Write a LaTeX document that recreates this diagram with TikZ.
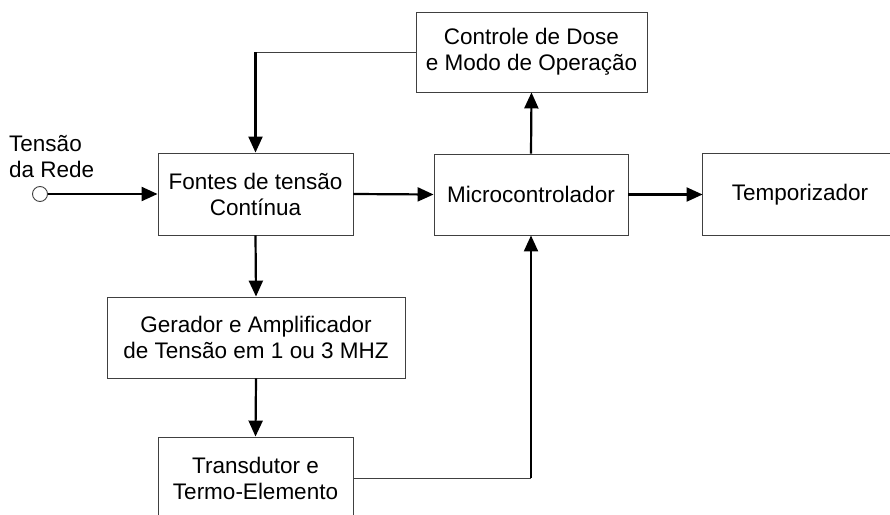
\documentclass[tikz,border=0pt]{standalone}
\usepackage{fontspec}
\setmainfont{Liberation Sans}
\usetikzlibrary{arrows.meta}
\begin{document}
\begin{tikzpicture}[x=1pt,y=-1pt,
  blk/.style={draw=black!75, line width=0.9pt, inner sep=0pt, align=center, font=\fontsize{22.5}{26}\selectfont},
  lbl/.style={inner sep=0pt, align=left, font=\fontsize{22.5}{26}\selectfont},
  arr/.style={line width=2.2pt, -{Triangle[length=16pt,width=14pt]}},
  thinline/.style={draw=black!75, line width=0.9pt}]
\useasboundingbox (0,0) rectangle (890,514);
\node[blk, minimum width=231pt, minimum height=80pt] (ctrl) at (531.5,52) {Controle de Dose\\e Modo de Operação};
\node[blk, minimum width=195pt, minimum height=82pt] (fontes) at (255.5,194) {Fontes de tensão\\Contínua};
\node[blk, minimum width=194pt, minimum height=81pt] (micro) at (531,194.5) {Microcontrolador};
\node[blk, draw=none, minimum width=194pt, minimum height=81pt] (temp) at (800,194.5) {Temporizador};
\draw[thinline] ([xshift=30pt]temp.north east) -- (temp.north west) -- (temp.south west) -- ([xshift=30pt]temp.south east);
\node[blk, minimum width=298pt, minimum height=81pt] (ger) at (256,337.5) {Gerador e Amplificador\\de Tensão em 1 ou 3 MHZ};
\node[blk, minimum width=195pt, minimum height=82pt] (trans) at (255.5,478) {Transdutor e\\Termo-Elemento};
\node[circle, draw=black!75, line width=0.9pt, minimum size=15pt, inner sep=0pt] (in) at (40,194) {};
\node[lbl, anchor=north west] (rede) at (9,135.5) {Tensão\\da Rede};
\draw[arr] (in.east) -- (in.east -| fontes.west);
\draw[arr] (fontes.east) -- (micro.west);
\draw[arr] (micro.east) -- (temp.west);
\draw[arr] (micro.north) -- (ctrl.south);
\coordinate (c1) at (fontes.north |- ctrl.west);
\draw[thinline] (ctrl.west) -- (c1);
\draw[arr] (c1) -- (fontes.north);
\draw[arr] (fontes.south) -- (ger.north);
\draw[arr] (ger.south) -- (trans.north);
\coordinate (c2) at (micro.south |- trans.east);
\draw[thinline] (trans.east) -- (c2);
\draw[arr] (c2) -- (micro.south);
\end{tikzpicture}
\end{document}
